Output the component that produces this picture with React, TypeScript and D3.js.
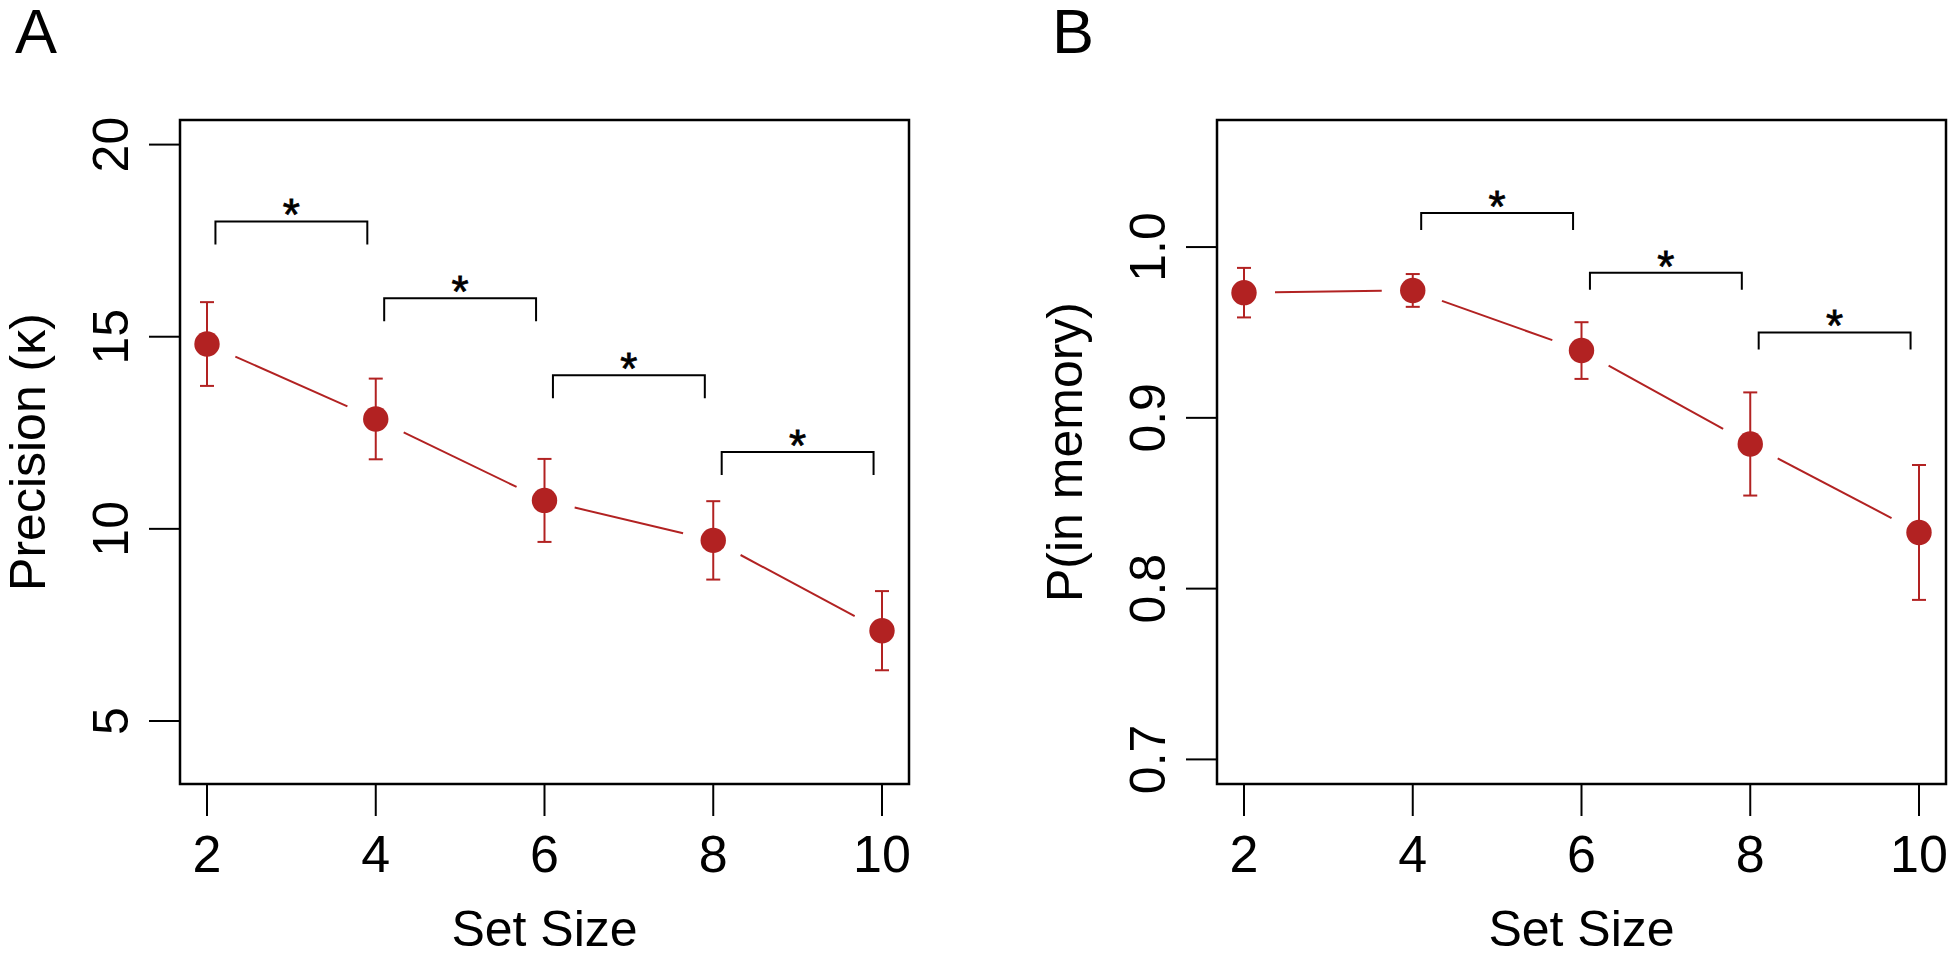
import React from "react";
import * as d3 from "d3";

// ---- Data ----
const setSizes = [2, 4, 6, 8, 10];
const xTicks = [2, 4, 6, 8, 10];

const precisionMean = [14.81, 12.86, 10.74, 9.7, 7.35];
const precisionErr = [1.09, 1.05, 1.08, 1.02, 1.03];
const precisionTicks = [5, 10, 15, 20];
const precisionTickLabels = ["5", "10", "15", "20"];

const pMemMean = [0.9733, 0.9746, 0.9394, 0.8847, 0.8329];
const pMemErr = [0.0145, 0.0096, 0.0166, 0.0302, 0.0395];
const pMemTicks = [0.7, 0.8, 0.9, 1.0];
const pMemTickLabels = ["0.7", "0.8", "0.9", "1.0"];

const sigStartA = [2, 4, 6, 8];
const sigTopA = [18, 16, 14, 12];
const sigDropA = 0.6;

const sigStartB = [4, 6, 8];
const sigTopB = [1.02, 0.985, 0.95];
const sigDropB = 0.01;

const RED = "#B22222";
const FONT = "'Liberation Sans', Arial, Helvetica, sans-serif";

type PanelProps = {
  letter: string;
  left: number;
  ylim: [number, number];
  means: number[];
  errs: number[];
  yTicks: number[];
  yTickLabels: string[];
  yLabel: React.ReactNode;
  sigStart: number[];
  sigTop: number[];
  sigDrop: number;
};

const TOP = 120;
const BOTTOM = 784;
const WIDTH = 729;
const TICK = 31;

function Panel(p: PanelProps) {
  const xlim: [number, number] = [2, 10];
  const xr = xlim[1] - xlim[0];
  const yr = p.ylim[1] - p.ylim[0];
  const x = d3
    .scaleLinear()
    .domain([xlim[0] - 0.04 * xr, xlim[1] + 0.04 * xr])
    .range([p.left, p.left + WIDTH]);
  const y = d3
    .scaleLinear()
    .domain([p.ylim[0] - 0.04 * yr, p.ylim[1] + 0.04 * yr])
    .range([BOTTOM, TOP]);

  const pts = setSizes.map((s, i) => [x(s), y(p.means[i])] as [number, number]);
  const gap = 31;
  const segs: [number, number, number, number][] = [];
  for (let i = 0; i < pts.length - 1; i++) {
    const [x1, y1] = pts[i];
    const [x2, y2] = pts[i + 1];
    const dx = x2 - x1;
    const dy = y2 - y1;
    const len = Math.hypot(dx, dy);
    if (len > 2 * gap) {
      const ux = dx / len;
      const uy = dy / len;
      segs.push([x1 + ux * gap, y1 + uy * gap, x2 - ux * gap, y2 - uy * gap]);
    }
  }

  const ylabX = p.left - 135;
  const yMid = (TOP + BOTTOM) / 2;
  const tickLabX = p.left - 52;

  return (
    <g>
      {/* panel letter */}
      <text x={p.left - 165} y={53} fontFamily={FONT} fontSize={63} fill="#000">
        {p.letter}
      </text>
      {/* box */}
      <rect
        x={p.left}
        y={TOP}
        width={WIDTH}
        height={BOTTOM - TOP}
        fill="none"
        stroke="#000"
        strokeWidth={2.5}
      />
      {/* x axis ticks */}
      {xTicks.map((t) => (
        <g key={"xt" + t}>
          <line x1={x(t)} x2={x(t)} y1={BOTTOM} y2={BOTTOM + TICK + 1} stroke="#000" strokeWidth={2} />
          <text
            x={x(t)}
            y={872}
            textAnchor="middle"
            fontFamily={FONT}
            fontSize={52}
            fill="#000"
          >
            {t}
          </text>
        </g>
      ))}
      <text
        x={p.left + WIDTH / 2}
        y={946}
        textAnchor="middle"
        fontFamily={FONT}
        fontSize={50}
        fill="#000"
      >
        Set Size
      </text>
      {/* y axis ticks */}
      {p.yTicks.map((t, i) => (
        <g key={"yt" + t}>
          <line x1={p.left - TICK} x2={p.left} y1={y(t)} y2={y(t)} stroke="#000" strokeWidth={2} />
          <text
            transform={`translate(${tickLabX},${y(t)}) rotate(-90)`}
            textAnchor="middle"
            fontFamily={FONT}
            fontSize={50}
            fill="#000"
          >
            {p.yTickLabels[i]}
          </text>
        </g>
      ))}
      <text
        transform={`translate(${ylabX},${yMid}) rotate(-90)`}
        textAnchor="middle"
        fontFamily={FONT}
        fontSize={50}
        fill="#000"
      >
        {p.yLabel}
      </text>
      {/* significance brackets */}
      {p.sigStart.map((s, i) => {
        const xa = x(s + 0.1);
        const xb = x(s + 1.9);
        const yt = y(p.sigTop[i]);
        const yb = y(p.sigTop[i] - p.sigDrop);
        return (
          <g key={"sig" + i}>
            <path
              d={`M${xa},${yb}V${yt}H${xb}V${yb}`}
              fill="none"
              stroke="#000"
              strokeWidth={2}
            />
            <text
              x={(xa + xb) / 2}
              y={yt + 9}
              textAnchor="middle"
              fontFamily={FONT}
              fontSize={44}
              fill="#000"
              stroke="#000"
              strokeWidth={0.8}
            >
              *
            </text>
          </g>
        );
      })}
      {/* connecting lines */}
      {segs.map((s, i) => (
        <line key={"seg" + i} x1={s[0]} y1={s[1]} x2={s[2]} y2={s[3]} stroke={RED} strokeWidth={2} />
      ))}
      {/* error bars */}
      {setSizes.map((s, i) => {
        const cx = x(s);
        const yTop = y(p.means[i] + p.errs[i]);
        const yBot = y(p.means[i] - p.errs[i]);
        return (
          <g key={"eb" + i} stroke={RED} strokeWidth={2}>
            <line x1={cx} x2={cx} y1={yTop} y2={yBot} />
            <line x1={cx - 7} x2={cx + 7} y1={yTop} y2={yTop} />
            <line x1={cx - 7} x2={cx + 7} y1={yBot} y2={yBot} />
          </g>
        );
      })}
      {/* points */}
      {pts.map((pt, i) => (
        <circle key={"pt" + i} cx={pt[0]} cy={pt[1]} r={12.7} fill={RED} />
      ))}
    </g>
  );
}

export default function App() {
  return (
    <svg
      width={1950}
      height={953}
      viewBox="0 0 1950 953"
      style={{ position: "absolute", left: 0, top: 0, background: "#fff" }}
    >
      <rect x={0} y={0} width={1950} height={953} fill="#fff" />
      <Panel
        letter="A"
        left={180}
        ylim={[4, 20]}
        means={precisionMean}
        errs={precisionErr}
        yTicks={precisionTicks}
        yTickLabels={precisionTickLabels}
        yLabel={"Precision (κ)"}
        sigStart={sigStartA}
        sigTop={sigTopA}
        sigDrop={sigDropA}
      />
      <Panel
        letter="B"
        left={1217}
        ylim={[0.7, 1.06]}
        means={pMemMean}
        errs={pMemErr}
        yTicks={pMemTicks}
        yTickLabels={pMemTickLabels}
        yLabel={"P(in memory)"}
        sigStart={sigStartB}
        sigTop={sigTopB}
        sigDrop={sigDropB}
      />
    </svg>
  );
}
